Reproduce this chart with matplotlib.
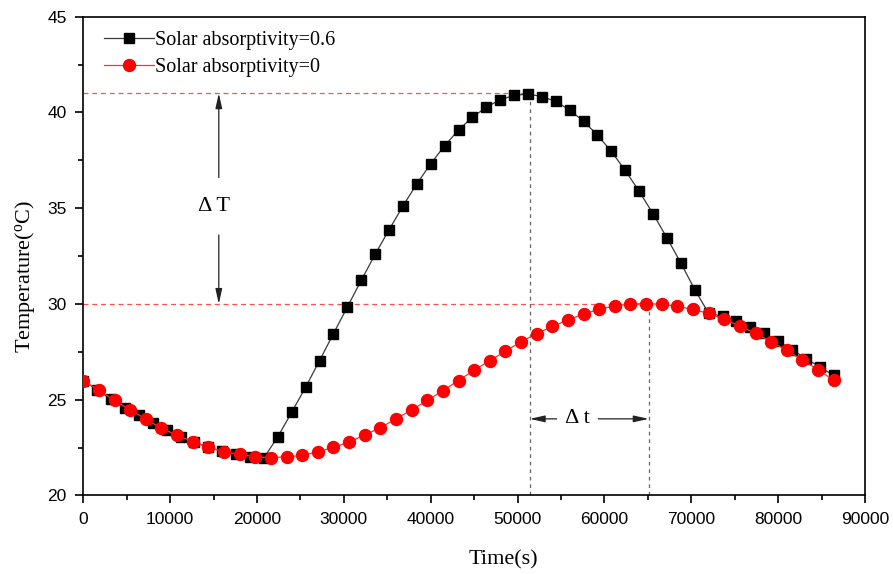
import matplotlib
matplotlib.use("Agg")
import matplotlib.pyplot as plt
from matplotlib.ticker import MultipleLocator

# ---- data ----
time_black = [1600 * k for k in range(55)]
temp_black = [26.0, 25.5, 25.03, 24.59, 24.21, 23.81, 23.42, 23.07, 22.78, 22.52,
              22.3, 22.15, 22.02, 21.97, 23.07, 24.35, 25.66, 27.04, 28.45, 29.84,
              31.23, 32.59, 33.87, 35.11, 36.27, 37.32, 38.26, 39.08, 39.75, 40.27,
              40.66, 40.89, 40.96, 40.83, 40.57, 40.12, 39.54, 38.82, 37.96, 36.97,
              35.88, 34.71, 33.45, 32.14, 30.75, 29.51, 29.35, 29.13, 28.79, 28.46,
              28.06, 27.62, 27.15, 26.71, 26.27]

time_red = [1800 * k for k in range(49)]
temp_red = [26.0, 25.49, 24.96, 24.47, 23.98, 23.51, 23.14, 22.81, 22.53, 22.28,
            22.15, 22.02, 21.97, 22.02, 22.09, 22.28, 22.51, 22.79, 23.16, 23.54,
            24.0, 24.47, 24.96, 25.47, 26.0, 26.54, 27.04, 27.53, 28.03, 28.45,
            28.83, 29.16, 29.48, 29.72, 29.9, 30.0, 30.02, 29.98, 29.88, 29.71,
            29.51, 29.2, 28.85, 28.46, 28.03, 27.57, 27.06, 26.57, 26.01]

label_black = "Solar absorptivity=0.6"
label_red = "Solar absorptivity=0"

peak_black_T = 41.0
peak_red_T = 30.0
peak_black_t = 51400
peak_red_t = 65100
dT_x = 15600
dt_y = 24.0

serif = ["Liberation Serif", "DejaVu Serif"]
sans = ["Liberation Sans", "DejaVu Sans"]

fig = plt.figure(figsize=(8.93, 5.74), dpi=100)
ax = fig.add_axes([0.0933, 0.1368, 0.9686 - 0.0933, 0.971 - 0.1368])

ax.plot(time_black, temp_black, color="#3a3a3a", lw=0.9, marker="s", ms=7.2,
        mfc="black", mec="black", label=label_black, zorder=3)
ax.plot(time_red, temp_red, color="#ff3030", lw=0.9, marker="o", ms=8.6,
        mfc="#ff0000", mec="#ff0000", label=label_red, zorder=4)

# reference lines
ax.plot([0, peak_black_t - 200], [peak_black_T, peak_black_T], color="#ff5050",
        lw=0.9, ls=(0, (4, 3)), zorder=2)
ax.plot([0, peak_red_t - 200], [peak_red_T, peak_red_T], color="#ff5050",
        lw=0.9, ls=(0, (4, 3)), zorder=2)
ax.plot([peak_black_t, peak_black_t], [20, peak_black_T - 0.3], color="#666666",
        lw=0.9, ls=(0, (3, 3)), zorder=2)
ax.plot([peak_red_t, peak_red_t], [20, peak_red_T], color="#666666",
        lw=0.9, ls=(0, (3, 3)), zorder=2)

arrow_kw = dict(arrowstyle="-|>,head_length=0.9,head_width=0.2", color="#222222",
                lw=0.9, shrinkA=0, shrinkB=0)
ax.annotate("", xy=(dT_x, peak_black_T), xytext=(dT_x, 36.6), arrowprops=arrow_kw)
ax.annotate("", xy=(dT_x, peak_red_T), xytext=(dT_x, 33.6), arrowprops=arrow_kw)
ax.text(dT_x - 600, 35.1, "Δ T", family=serif, fontsize=16, ha="center", va="center")

ax.annotate("", xy=(peak_black_t, dt_y), xytext=(54500, dt_y), arrowprops=arrow_kw)
ax.annotate("", xy=(peak_red_t, dt_y), xytext=(59300, dt_y), arrowprops=arrow_kw)
ax.text(56900, dt_y, "Δ t", family=serif, fontsize=16, ha="center", va="center")

ax.set_xlim(0, 90000)
ax.set_ylim(20, 45)
ax.xaxis.set_major_locator(MultipleLocator(10000))
ax.xaxis.set_minor_locator(MultipleLocator(5000))
ax.yaxis.set_major_locator(MultipleLocator(5))
ax.yaxis.set_minor_locator(MultipleLocator(2.5))
ax.tick_params(which="both", direction="out", top=False, right=False, width=1.2)
ax.tick_params(which="major", length=6, labelsize=12.5, pad=6)
ax.tick_params(which="minor", length=3.5)
for lab in ax.get_xticklabels() + ax.get_yticklabels():
    lab.set_family(sans)
for sp in ax.spines.values():
    sp.set_linewidth(1.2)

ax.set_xlabel("Time(s)", family=serif, fontsize=16)
ax.set_ylabel("Temperature($\\mathregular{^o}$C)", family=serif, fontsize=16)
ax.xaxis.set_label_coords(0.537, -0.115)
ax.yaxis.set_label_coords(-0.059, 0.458)

leg = ax.legend(loc="upper left", bbox_to_anchor=(0.0115, 0.995), frameon=False,
                prop={"family": serif, "size": 14.5}, handlelength=2.45,
                handletextpad=0.05, labelspacing=0.4, borderaxespad=0.2)

fig.savefig("out.png", dpi=100)
